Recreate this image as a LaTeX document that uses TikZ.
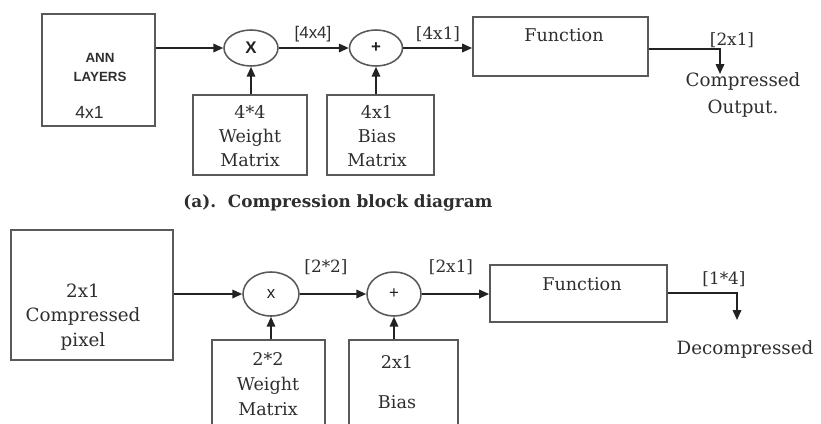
\documentclass[tikz,border=0pt]{standalone}
\usepackage{fontspec}
\setmainfont{DejaVu Serif}
\setsansfont{Liberation Sans}
\usepackage{xcolor}
\definecolor{BoxGrey}{HTML}{595959}
\definecolor{LineGrey}{HTML}{222222}
\definecolor{TextGrey}{HTML}{2E2E2E}
\usetikzlibrary{arrows.meta,shapes}
\newcommand\Px{0.025cm}
\tikzstyle{block}=[rectangle,draw=BoxGrey,line width=1.3pt,inner sep=0pt]
\tikzstyle{op}=[ellipse,draw=BoxGrey,line width=1.1pt,inner sep=0pt,text=LineGrey,
                 font=\sffamily\fontsize{12}{14}\selectfont]
\tikzstyle{txt}=[text=TextGrey,align=center,inner sep=0pt,
                 font=\fontsize{12.5}{17}\selectfont]
\tikzstyle{dim}=[text=TextGrey,inner sep=0pt,font=\fontsize{12}{14}\selectfont]
\tikzstyle{flow}=[-{Triangle[length=7pt,width=6pt]},line width=1.3pt,draw=LineGrey]

\begin{document}
\begin{tikzpicture}[x=\Px,y=-\Px]
  \useasboundingbox (0,0) rectangle (821,423);
  \clip (0,0) rectangle (821,423);
  % compression
  \node[block,minimum width=113*\Px,minimum height=112*\Px] (annA) at (98.5,70) {};
  \node[txt,font=\sffamily\bfseries\fontsize{9.5}{13.5}\selectfont] (annAtxt) at (100,67) {ANN\\LAYERS};
  \node[txt,font=\sffamily\fontsize{12.5}{15}\selectfont] (annAsize) at (89.5,112) {4x1};
  \node[op,minimum width=54*\Px,minimum height=36*\Px] (mulA) at (251,48) {\textbf{X}};
  \node[op,minimum width=53*\Px,minimum height=36*\Px] (addA) at (376,48) {\textbf{+}};
  \node[block,minimum width=175*\Px,minimum height=59*\Px] (funA) at (560.5,46.5) {};
  \node[txt] (funAtxt) at (564,35) {Function};
  \node[block,minimum width=114*\Px,minimum height=80*\Px] (wA) at (250,135) {};
  \node[txt] (wAtxt) at (250,136) {4*4\\Weight\\Matrix};
  \node[block,minimum width=107*\Px,minimum height=80*\Px] (bA) at (380.5,135) {};
  \node[txt] (bAtxt) at (377,136) {4x1\\Bias\\Matrix};
  \coordinate (outA) at (720,49);
  \coordinate (outAend) at (720,74);
  \draw[flow] (annA.east |- mulA) -- (mulA);
  \draw[flow] (mulA) -- (addA);
  \draw[flow] (addA) -- (funA.west |- addA);
  \draw[flow] (funA.east |- outA) -- (outA) -- (outAend);
  \draw[flow] (wA.north -| mulA) -- (mulA);
  \draw[flow] (bA.north -| addA) -- (addA);
  \node[dim,font=\sffamily\fontsize{12}{14}\selectfont] (dimA1) at (313,34) {[4x4]};
  \node[dim] (dimA2) at (438,34) {[4x1]};
  \node[dim] (dimA3) at (732,40) {[2x1]};
  \node[txt,font=\fontsize{13}{19}\selectfont] (outAtxt) at (743,95) {Compressed\\Output.};
  \node[txt,font=\bfseries\fontsize{12}{14}\selectfont] (capA) at (338,203) {(a).~~Compression block diagram};
  % decompression
  \node[block,minimum width=162*\Px,minimum height=130*\Px] (cpix) at (92,295) {};
  \node[txt,font=\fontsize{13}{17.5}\selectfont] (cpixtxt) at (83,317) {2x1\\Compressed\\pixel};
  \node[op,minimum width=56*\Px,minimum height=44*\Px] (mulB) at (271,294) {x};
  \node[op,minimum width=54*\Px,minimum height=44*\Px] (addB) at (394,294) {+};
  \node[block,minimum width=177*\Px,minimum height=57*\Px] (funB) at (578.5,293.5) {};
  \node[txt] (funBtxt) at (582,284) {Function};
  \node[block,minimum width=113*\Px,minimum height=100*\Px] (wB) at (268.5,390) {};
  \node[txt,font=\fontsize{12.5}{18}\selectfont] (wBtxt) at (268,384) {2*2\\Weight\\Matrix};
  \node[block,minimum width=109*\Px,minimum height=100*\Px] (bB) at (403.5,390) {};
  \node[txt,font=\fontsize{12.5}{28}\selectfont] (bBtxt) at (397,382) {2x1\\Bias};
  \coordinate (outB) at (737,293);
  \coordinate (outBend) at (737,320);
  \draw[flow] (cpix.east |- mulB) -- (mulB);
  \draw[flow] (mulB) -- (addB);
  \draw[flow] (addB) -- (funB.west |- addB);
  \draw[flow] (funB.east |- outB) -- (outB) -- (outBend);
  \draw[flow] (wB.north -| mulB) -- (mulB);
  \draw[flow] (bB.north -| addB) -- (addB);
  \node[dim] (dimB1) at (326,267) {[2*2]};
  \node[dim] (dimB2) at (451,267) {[2x1]};
  \node[dim] (dimB3) at (724,279) {[1*4]};
  \node[txt,font=\fontsize{13}{16}\selectfont] (outBtxt) at (745,349) {Decompressed};
\end{tikzpicture}
\end{document}
